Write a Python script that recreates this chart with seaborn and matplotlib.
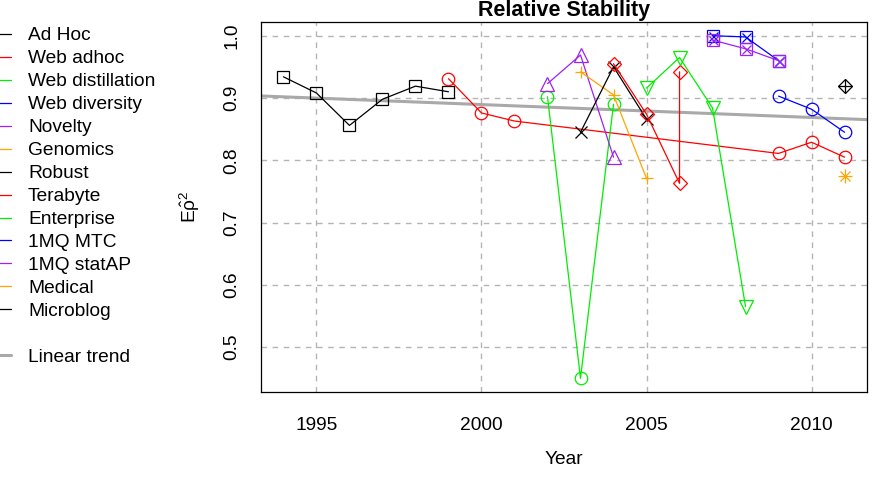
import numpy as np
import pandas as pd
import matplotlib
matplotlib.use("Agg")
import matplotlib.pyplot as plt
from matplotlib.lines import Line2D
import seaborn as sns

# ---- data ----
series_names = ["Ad Hoc", "Web adhoc", "Web distillation", "Web diversity", "Novelty",
                "Genomics", "Robust", "Terabyte", "Enterprise", "1MQ MTC", "1MQ statAP",
                "Medical", "Microblog"]

adhoc_years = [1994, 1995, 1996, 1997, 1998, 1999]
adhoc_vals = [0.934, 0.908, 0.856, 0.898, 0.919, 0.910]
webadhoc_years = [1999, 2000, 2001, 2009, 2010, 2011]
webadhoc_vals = [0.931, 0.876, 0.863, 0.811, 0.829, 0.805]
webdist_years = [2002, 2003, 2004]
webdist_vals = [0.902, 0.450, 0.890]
webdiv_years = [2009, 2010, 2011]
webdiv_vals = [0.903, 0.882, 0.845]
novelty_years = [2002, 2003, 2004]
novelty_vals = [0.923, 0.969, 0.805]
genomics_years = [2003, 2004, 2005]
genomics_vals = [0.942, 0.905, 0.771]
robust_years = [2003, 2004, 2005]
robust_vals = [0.845, 0.950, 0.866]
terabyte_years = [2004, 2005, 2006, 2006]
terabyte_vals = [0.955, 0.874, 0.763, 0.942]
enterprise_years = [2005, 2006, 2007, 2008]
enterprise_vals = [0.916, 0.965, 0.884, 0.565]
mtc_years = [2007, 2008, 2009]
mtc_vals = [1.000, 0.998, 0.960]
statap_years = [2007, 2008, 2009]
statap_vals = [0.993, 0.979, 0.960]
medical_years = [2011]
medical_vals = [0.774]
microblog_years = [2011]
microblog_vals = [0.920]

x_ticks = [1995, 2000, 2005, 2010]
y_ticks = [0.5, 0.6, 0.7, 0.8, 0.9, 1.0]

# ---- style ----
sns.set_theme(style="white")
plt.rcParams["font.family"] = ["Liberation Sans", "DejaVu Sans"]
plt.rcParams["mathtext.fontset"] = "custom"
plt.rcParams["mathtext.rm"] = "Liberation Sans"
plt.rcParams["mathtext.it"] = "Liberation Sans"
plt.rcParams["mathtext.bf"] = "Liberation Sans:bold"
plt.rcParams["text.color"] = "black"
plt.rcParams["axes.labelcolor"] = "black"
plt.rcParams["legend.labelcolor"] = "black"

FS = 13.8
BLACK, RED, GREEN, BLUE, PURPLE, ORANGE = "#000000", "#FF0000", "#00EE00", "#0000FF", "#A020F0", "#FFA500"

# name, years, values, color, main marker, overlay marker
specs = [
    ("Ad Hoc", adhoc_years, adhoc_vals, BLACK, "s", None),
    ("Web adhoc", webadhoc_years, webadhoc_vals, RED, "o", None),
    ("Web distillation", webdist_years, webdist_vals, GREEN, "o", None),
    ("Web diversity", webdiv_years, webdiv_vals, BLUE, "o", None),
    ("Novelty", novelty_years, novelty_vals, PURPLE, "^", None),
    ("Genomics", genomics_years, genomics_vals, ORANGE, "+", None),
    ("Robust", robust_years, robust_vals, BLACK, "x", None),
    ("Terabyte", terabyte_years, terabyte_vals, RED, "D", None),
    ("Enterprise", enterprise_years, enterprise_vals, GREEN, "v", None),
    ("1MQ MTC", mtc_years, mtc_vals, BLUE, "s", "x"),
    ("1MQ statAP", statap_years, statap_vals, PURPLE, "s", "x"),
    ("Medical", medical_years, medical_vals, ORANGE, "+", "x"),
    ("Microblog", microblog_years, microblog_vals, BLACK, "D", "+"),
]

W, H = 873, 490
fig = plt.figure(figsize=(W / 100, H / 100), dpi=100)
ax = fig.add_axes([261 / W, 1 - 392 / H, (867 - 261) / W, (392 - 22) / H])

all_x, all_y = [], []
for name, xs, ys, col, mk, ov in specs:
    df = pd.DataFrame({"Year": xs, "val": ys})
    all_x += xs
    all_y += ys
    ms = 9 if mk not in ("D",) else 7.5
    if mk == "^" or mk == "v":
        ms = 10
    if name == "Medical":
        ms = 10
    sns.lineplot(data=df, x="Year", y="val", ax=ax, sort=False, estimator=None,
                 color=col, lw=0.9, marker=mk, markersize=ms,
                 markerfacecolor="none", markeredgecolor=col, markeredgewidth=0.9,
                 zorder=3, legend=False)
    if ov is not None:
        oms = ms * 0.72 if ov == "x" else ms
        if name == "Medical":
            oms = ms * 0.72
        if name == "Microblog":
            oms = ms * 1.35
        sns.lineplot(data=df, x="Year", y="val", ax=ax, sort=False, estimator=None,
                     color=col, linestyle="none", marker=ov, markersize=oms,
                     markeredgecolor=col, markeredgewidth=0.9, zorder=3, legend=False)

xlim = (1993.32, 2011.68)
ylim = (0.428, 1.022)

# linear trend fitted to all points
slope, intercept = np.polyfit(np.array(all_x, float), np.array(all_y, float), 1)
trend_x = np.array(xlim)
trend_df = pd.DataFrame({"Year": trend_x, "val": intercept + slope * trend_x})
sns.lineplot(data=trend_df, x="Year", y="val", ax=ax, color="#A9A9A9", lw=2.2,
             zorder=2, legend=False)
ax.set_xlim(*xlim)
ax.set_ylim(*ylim)

# grid
for xt in x_ticks:
    ax.axvline(xt, color="#B4B4B4", lw=1.0, ls=(0, (4, 4)), zorder=1)
for yt in y_ticks:
    ax.axhline(yt, color="#B4B4B4", lw=1.0, ls=(0, (4, 4)), zorder=1)

ax.set_xticks(x_ticks)
ax.set_xticklabels([str(t) for t in x_ticks])
ax.set_yticks(y_ticks)
ax.set_yticklabels([f"{t:.1f}" for t in y_ticks], rotation=90, va="center")
ax.tick_params(axis="both", direction="out", length=5, width=0.8, color="black",
               labelsize=FS, labelcolor="black")
ax.tick_params(axis="x", pad=13)
ax.tick_params(axis="y", pad=10)
for s in ax.spines.values():
    s.set_visible(True)
    s.set_color("black")
    s.set_linewidth(0.9)
ax.grid(False)

ax.set_xlabel("Year", fontsize=FS, labelpad=12)
ax.set_ylabel(r"$\mathrm{E}\hat{\rho}^{2}$", fontsize=FS, labelpad=15)

# title
fig.text(564 / W, 1.0, "Relative Stability", ha="center", va="top",
         fontsize=15.5, fontweight="bold", color="black")

# legend
handles = [Line2D([], [], color=c, lw=0.9) for _, _, _, c, _, _ in specs]
labels = [n for n, *_ in specs]
handles.append(Line2D([], [], color="none", lw=0))
labels.append(" ")
handles.append(Line2D([], [], color="#A9A9A9", lw=2.2))
labels.append("Linear trend")
fig.legend(handles, labels, loc="upper left", bbox_to_anchor=(-9 / W, 1 - 27 / H),
           frameon=False, fontsize=FS, handlelength=1.04, handletextpad=0.89,
           borderpad=0, borderaxespad=0, labelspacing=0.29, labelcolor="black")

fig.savefig("out.png", dpi=100)
